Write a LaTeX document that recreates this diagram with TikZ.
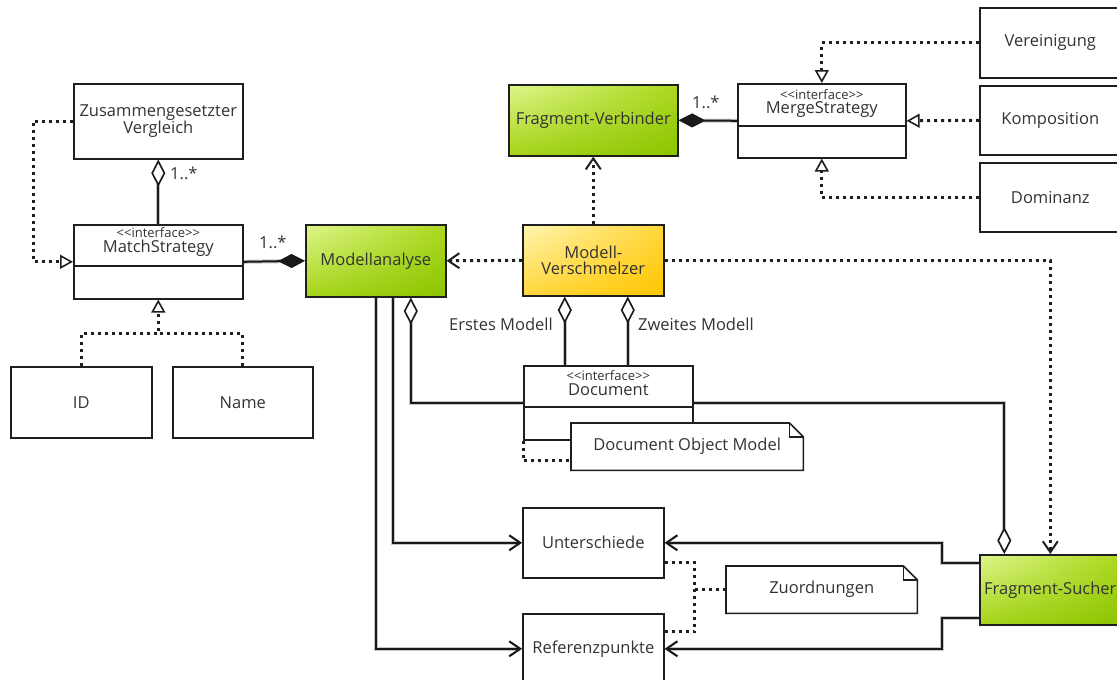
\documentclass[tikz,border=0pt]{standalone}
\usepackage{fontspec}
\setmainfont{Open Sans}
\usetikzlibrary{arrows.meta,shadings}
\definecolor{grnA}{RGB}{222,246,140}
\definecolor{grnB}{RGB}{172,216,30}
\definecolor{grnC}{RGB}{166,212,24}
\definecolor{grnD}{RGB}{140,196,0}
\definecolor{ylwA}{RGB}{255,246,178}
\definecolor{ylwB}{RGB}{255,214,60}
\definecolor{ylwD}{RGB}{255,198,0}
\pgfdeclarelayer{paper}
\pgfdeclarelayer{wires}
\pgfsetlayers{paper,wires,main}
\newcommand{\stereo}[1]{<\kern0pt<#1>\kern0pt>}
\begin{document}
\begin{tikzpicture}[x=1pt,y=-1pt,
  every node/.style={font=\fontsize{16.5}{16.5}\selectfont, text=black!80},
  box/.style={draw=black!88, line width=1.6pt, fill=white, inner sep=0pt,
    align=center, anchor=north west},
  greenbox/.style={box, shade, upper left=grnA, upper right=grnB,
    lower left=grnC, lower right=grnD},
  yellowbox/.style={box, shade, upper left=ylwA, upper right=ylwB,
    lower left=ylwB, lower right=ylwD},
  notebox/.style={inner sep=0pt, align=center, anchor=north west},
  stereotype/.style={font=\fontsize{13}{13}\selectfont, inner sep=0pt},
  classname/.style={inner sep=0pt},
  lbl/.style={inner sep=0pt},
  wire/.style={line width=2pt, draw=black!90,
    preaction={draw=black!22, line width=4pt}},
  dotline/.style={line width=3pt, draw=black!88, dash pattern=on 3pt off 4pt},
  realize/.style={dotline, -{Triangle[length=13pt,width=14pt,fill=white,line width=1.6pt]}},
  depend/.style={dotline, -{Straight Barb[length=11pt,width=15pt,line width=2pt]}},
  navig/.style={wire, -{Straight Barb[length=11pt,width=15pt,line width=2pt]}},
  aggreg/.style={wire, -{Diamond[length=27pt,width=14pt,fill=white,line width=1.6pt]}},
  compos/.style={wire, -{Diamond[length=27pt,width=14pt,line width=1.6pt]}},
]
\useasboundingbox (0,0) rectangle (1117,680);
\begin{pgfonlayer}{paper}
  \fill[white] (0,0) rectangle (1117,680);
\end{pgfonlayer}

% ---- match strategies ----
\node[box, minimum width=169pt, minimum height=75pt] (zv) at (73,83) {Zusammengesetzter\\Vergleich};
\node[box, minimum width=169pt, minimum height=74pt] (ms) at (73,224) {};
\node[stereotype] (ms-st) at ([yshift=-9pt]ms.north) {\stereo{interface}};
\node[classname] (ms-nm) at ([yshift=-24pt]ms.north) {MatchStrategy};
\draw[draw=black!88, line width=1.6pt] ([yshift=-42pt]ms.north west) -- ([yshift=-42pt]ms.north east);
\node[box, minimum width=141pt, minimum height=71pt] (id) at (10,366) {ID};
\node[box, minimum width=140pt, minimum height=71pt] (nm) at (172,366) {Name};

% ---- core components ----
\node[greenbox, minimum width=140pt, minimum height=72pt] (ma) at (305,224) {Modellanalyse};
\node[greenbox, minimum width=169pt, minimum height=71pt] (fv) at (508,84) {Fragment-Verbinder};
\node[yellowbox, minimum width=141pt, minimum height=71pt] (mv) at (522,224) {Modell-\\Verschmelzer};
\node[greenbox, minimum width=141pt, minimum height=70pt] (fs) at (979,554) {Fragment-Sucher};

% ---- merge strategies ----
\node[box, minimum width=168pt, minimum height=74pt] (mg) at (737,83) {};
\node[stereotype] (mg-st) at ([yshift=-12pt]mg.north) {\stereo{interface}};
\node[classname] (mg-nm) at ([yshift=-27pt]mg.north) {MergeStrategy};
\draw[draw=black!88, line width=1.6pt] ([yshift=-43pt]mg.north west) -- ([yshift=-43pt]mg.north east);
\node[box, minimum width=141pt, minimum height=70pt] (ver) at (979,7) {Vereinigung};
\node[box, minimum width=141pt, minimum height=69pt] (kom) at (979,85) {Komposition};
\node[box, minimum width=141pt, minimum height=69pt] (dom) at (979,162) {Dominanz};

% ---- document and results ----
\node[box, minimum width=169pt, minimum height=74pt] (doc) at (523,365) {};
\node[stereotype] (doc-st) at ([yshift=-11pt]doc.north) {\stereo{interface}};
\node[classname] (doc-nm) at ([yshift=-25pt]doc.north) {Document};
\draw[draw=black!88, line width=1.6pt] ([yshift=-42pt]doc.north west) -- ([yshift=-42pt]doc.north east);
\node[notebox, minimum width=232pt, minimum height=47pt] (dnote) at (571,423) {};
\filldraw[fill=white, draw=black!88, line width=1.6pt]
  (dnote.south west) -- (dnote.north west) -- ([xshift=-14pt]dnote.north east)
  -- ([yshift=-14pt]dnote.north east) -- (dnote.south east) -- cycle;
\draw[draw=black!88, line width=1.4pt] ([xshift=-14pt]dnote.north east) -- ([xshift=-14pt,yshift=-14pt]dnote.north east) -- ([yshift=-14pt]dnote.north east);
\node[notebox, minimum width=232pt, minimum height=47pt] (dnote-t) at (571,423) {Document Object Model};

\node[box, minimum width=141pt, minimum height=70pt] (un) at (522,507) {Unterschiede};
\node[box, minimum width=141pt, minimum height=70pt] (rp) at (522,613) {Referenzpunkte};
\node[notebox, minimum width=191pt, minimum height=47pt] (zu) at (726,566) {};
\filldraw[fill=white, draw=black!88, line width=1.6pt]
  (zu.south west) -- (zu.north west) -- ([xshift=-14pt]zu.north east)
  -- ([yshift=-14pt]zu.north east) -- (zu.south east) -- cycle;
\draw[draw=black!88, line width=1.4pt] ([xshift=-14pt]zu.north east) -- ([xshift=-14pt,yshift=-14pt]zu.north east) -- ([yshift=-14pt]zu.north east);
\node[notebox, minimum width=191pt, minimum height=47pt] (zu-t) at (726,566) {Zuordnungen};

% ---- labels ----
\node[lbl, anchor=west] (l-zv) at (170,173) {1..*};
\node[lbl, anchor=west] (l-ms) at (259,242) {1..*};
\node[lbl, anchor=west] (l-fv) at (692,102) {1..*};
\node[lbl, anchor=east] (l-erst) at (553,324) {Erstes Modell};
\node[lbl, anchor=west] (l-zweit) at (638,324) {Zweites Modell};

% ---- connectors ----
\begin{pgfonlayer}{wires}
  \draw[realize] (zv.west) -- ++(-40,0) |- (ms.west);
  \draw[aggreg] (ms.north) -- (zv.south);
  \draw[compos] (ms.east) -- (ma.west);
  \draw[realize] (id.north) |- ([yshift=-34pt]ms.south) -- (ms.south);
  \draw[dotline] (nm.north) |- ([yshift=-34pt]ms.south);

  \draw[compos] (mg.west) -- (fv.east);
  \draw[realize] (ver.west) -| (mg.north);
  \draw[realize] (kom.west) -- (mg.east);
  \draw[realize] (dom.west) -| (mg.south);

  \draw[depend] (mv.north) -- (fv.south);
  \draw[depend] (mv.west) -- (ma.east);
  \draw[depend] (mv.east) -| (fs.north);

  \draw[aggreg] ([xshift=-43.5pt]doc.north) -- ([xshift=-28.5pt]mv.south);
  \draw[aggreg] ([xshift=19.5pt]doc.north) -- ([xshift=34.5pt]mv.south);
  \draw[aggreg] (doc.west) -| ([xshift=35pt]ma.south);
  \draw[aggreg] (doc.east) -| ([xshift=-46pt]fs.north);
  \draw[dotline] (doc.south west) |- ([yshift=10pt]dnote.south west);

  \draw[navig] ([xshift=17pt]ma.south) |- (un.west);
  \draw[navig] (ma.south) |- (rp.west);
  \draw[navig] ([yshift=27pt]fs.west) -- ++(-37,0) |- (un.east);
  \draw[navig] ([yshift=-28pt]fs.west) -- ++(-37,0) |- (rp.east);

  \draw[dotline] ([yshift=-20pt]un.east) -- ++(30,0) |- ([yshift=17pt]rp.east);
  \draw[dotline] (zu.west) -- ++(-33,0);
\end{pgfonlayer}
\end{tikzpicture}
\end{document}
